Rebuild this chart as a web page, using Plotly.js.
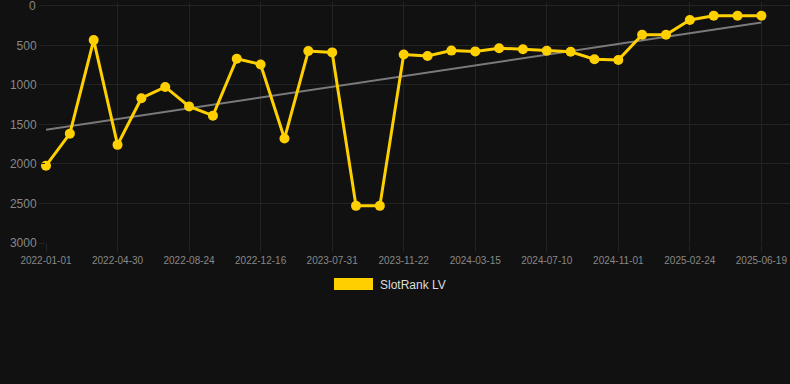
<!DOCTYPE html>
<html>
<head>
<meta charset="utf-8">
<script src="https://cdn.plot.ly/plotly-3.0.1.min.js"></script>
<style>
html,body{margin:0;padding:0;background:#111111;}
#chart{width:790px;height:384px;}
</style>
</head>
<body>
<div id="chart"></div>
<script>
// ---- data ----
const dates = [
  "2022-01-01","2022-02-09","2022-03-21","2022-04-30","2022-06-08","2022-07-16",
  "2022-08-24","2022-10-01","2022-11-08","2022-12-16","2023-03-01","2023-05-15",
  "2023-07-31","2023-08-30","2023-10-25","2023-11-22","2024-01-01","2024-02-08",
  "2024-03-15","2024-04-20","2024-06-01","2024-07-10","2024-08-15","2024-09-25",
  "2024-11-01","2024-12-10","2025-01-18","2025-02-24","2025-04-01","2025-05-12",
  "2025-06-19"
];
const rankValues = [
  2022, 1616, 432, 1758, 1168, 1025, 1271, 1388, 668, 740, 1678, 570,
  588, 2530, 2530, 615, 633, 565, 575, 535, 548, 566, 580, 674,
  683, 365, 365, 178, 123, 123, 123
];
const trendDates = ["2022-01-01", "2025-06-19"];
const trendValues = [1567, 210];
const tickLabels = [
  "2022-01-01","2022-04-30","2022-08-24","2022-12-16","2023-07-31","2023-11-22",
  "2024-03-15","2024-07-10","2024-11-01","2025-02-24","2025-06-19"
];
const yTicks = [0, 500, 1000, 1500, 2000, 2500, 3000];
const yTickText = ["0", "500", "1000", "1500", "2000", "2500", "3000"];
const seriesName = "SlotRank LV";

// ---- layout helpers ----
const W = 790, H = 384;
const M = {l: 46, r: 0, t: 2, b: 141};
const plotW = W - M.l - M.r, plotH = H - M.t - M.b;
const px = x => (x - M.l) / plotW;
const py = y => (H - M.b - y) / plotH;

const yellow = "#FFD000";
const grid = "#232323";
const tickColor = "#888888";

const traces = [
  {
    x: trendDates, y: trendValues, type: "scatter", mode: "lines",
    line: {color: "#7a7a7a", width: 2}, hoverinfo: "skip", showlegend: false,
    cliponaxis: false
  },
  {
    x: dates, y: rankValues, type: "scatter", mode: "lines+markers",
    name: seriesName,
    line: {color: yellow, width: 3},
    marker: {color: yellow, size: 10},
    showlegend: false, cliponaxis: false
  }
];

// the topmost tick label sits at the very top edge of the page; it is drawn
// as an annotation so it is not dropped for touching the edge
const topLabelIdx = 0;
const axisTickText = yTickText.map((t, i) => i === topLabelIdx ? "" : t);

const layout = {
  width: W, height: H,
  margin: M,
  paper_bgcolor: "#111111",
  plot_bgcolor: "#111111",
  font: {family: "Liberation Sans, Arial, sans-serif", color: tickColor},
  xaxis: {
    type: "category",
    categoryorder: "array", categoryarray: dates,
    range: [0, 31.2],
    tickmode: "array", tickvals: tickLabels, ticktext: tickLabels,
    tickfont: {size: 10, color: tickColor},
    showgrid: true, gridcolor: grid, gridwidth: 1,
    ticks: "outside", ticklen: 8, tickcolor: grid,
    zeroline: false, showline: false, fixedrange: true
  },
  yaxis: {
    range: [3000, -50],
    tickmode: "array", tickvals: yTicks, ticktext: axisTickText,
    tickfont: {size: 12, color: tickColor},
    showgrid: true, gridcolor: grid, gridwidth: 1,
    ticks: "outside", ticklen: 6, tickcolor: grid,
    zeroline: false, showline: false, fixedrange: true
  },
  showlegend: false,
  shapes: [
    {type: "rect", xref: "paper", yref: "paper",
     x0: px(334), x1: px(373), y0: py(290), y1: py(278),
     fillcolor: yellow, line: {width: 0}}
  ],
  annotations: [
    {xref: "paper", yref: "paper", x: px(378), y: py(284.5),
     xanchor: "left", yanchor: "middle", showarrow: false,
     text: seriesName, font: {size: 12, color: "#dddddd"}},
    {xref: "paper", yref: "y", x: px(38), y: yTicks[topLabelIdx],
     xanchor: "right", yanchor: "middle", showarrow: false,
     text: yTickText[topLabelIdx], font: {size: 12, color: tickColor}}
  ]
};

Plotly.newPlot("chart", traces, layout, {displayModeBar: false, staticPlot: true});
</script>
</body>
</html>
